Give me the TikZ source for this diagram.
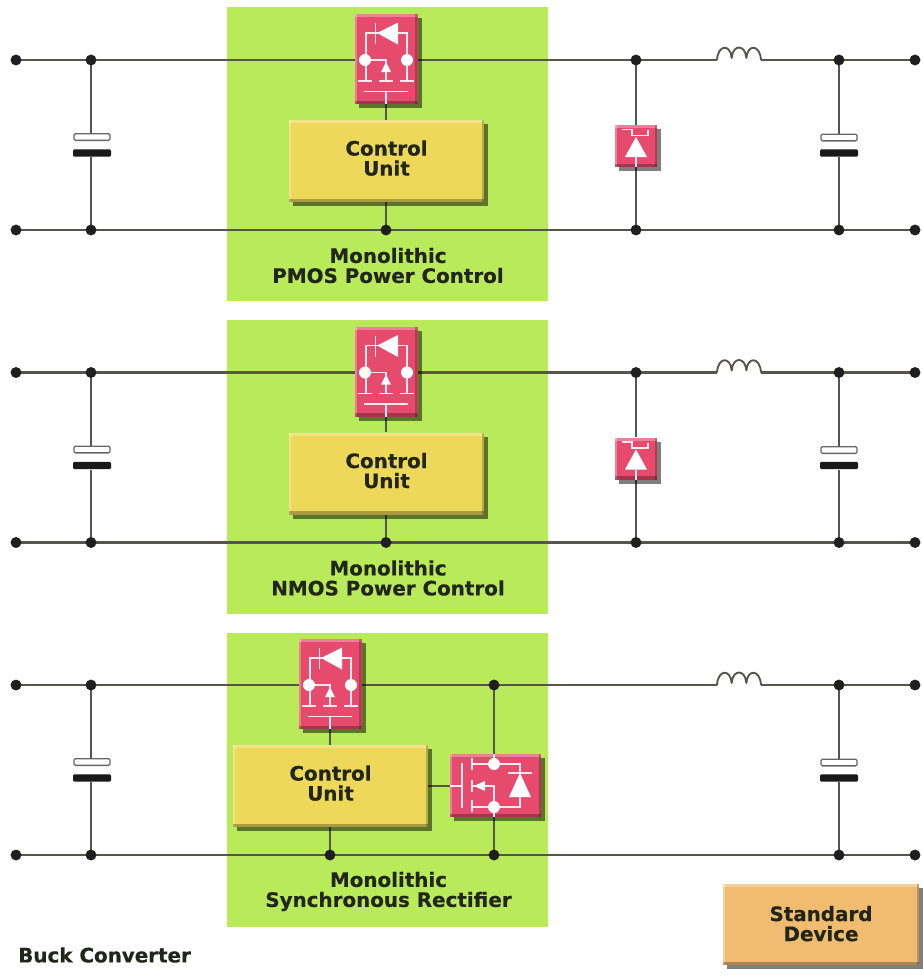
\documentclass[tikz,border=0pt]{standalone}
\usepackage{fontspec}
\setmainfont[BoldFeatures={FakeBold=0.4}]{DejaVu Sans}
\pgfdeclarelayer{greens}
\pgfdeclarelayer{wires}
\pgfsetlayers{greens,wires,main}
\definecolor{wirec}{HTML}{55554B}
\definecolor{leaf}{HTML}{B8EA5A}
\definecolor{redbox}{HTML}{E64A6C}
\definecolor{yellowbox}{HTML}{EDD85A}
\definecolor{orangebox}{HTML}{F0BC70}
\definecolor{inkc}{HTML}{22261A}
\tikzset{
  wire/.style={draw=wirec,line width=1.9pt},
  dot/.style={circle,fill=black!88,inner sep=0pt,minimum size=8.2pt},
  term/.style={dot},
  panel/.style={fill=leaf,draw=none,inner sep=0pt,anchor=north west,minimum width=240.75pt,minimum height=220.5pt},
  bevel/.style={
    draw=none,fill=#1,inner sep=0pt,
    preaction={fill=black,opacity=.5,transform canvas={shift={(3pt,-3pt)}}},
    path picture={
      \fill[white,opacity=.3] (path picture bounding box.north west) rectangle ([yshift=-2.5pt]path picture bounding box.north east);
      \fill[white,opacity=.3] (path picture bounding box.north west) rectangle ([xshift=1.6pt]path picture bounding box.south west);
      \fill[black,opacity=.28] (path picture bounding box.south west) rectangle ([yshift=2.6pt]path picture bounding box.south east);
      \fill[black,opacity=.22] (path picture bounding box.north east) rectangle ([xshift=-1.6pt]path picture bounding box.south east);
    }},
  label/.style={font=\fontsize{14.9}{15}\selectfont\bfseries,text=inkc,align=center,inner sep=0pt},
  cubox/.style={bevel=yellowbox,minimum width=146.25pt,minimum height=61.5pt,label,text depth=4.5pt},
  icon/.style={draw=white!88!redbox,line width=1.3pt},
  iconfill/.style={fill=white,draw=none},
  whiteplate/.style={draw=black!60,line width=1pt,fill=white,rounded corners=1pt,inner sep=0pt,minimum width=27pt,minimum height=5pt},
  blackplate/.style={fill=black!90,rounded corners=1pt,inner sep=0pt,minimum width=28.5pt,minimum height=5.6pt},
}
% common parts of one converter row
\newcommand{\commonparts}[1]{%
  \node[term] (#1tl) at (16,60) {};
  \node[term] (#1bl) at (16,230) {};
  \node[term] (#1tr) at (915,60) {};
  \node[term] (#1br) at (915,230) {};
  \node[dot] (#1ct) at (91,60) {};
  \node[dot] (#1cb) at (91,230) {};
  \node[dot] (#1ot) at (839,60) {};
  \node[dot] (#1ob) at (839,230) {};
  \node[whiteplate] (#1cw) at (92,137) {};
  \node[blackplate] (#1cd) at (92,153) {};
  \node[whiteplate] (#1ow) at (839,137.5) {};
  \node[blackplate] (#1od) at (839,153) {};
  \coordinate (#1ia) at (717,60);
  \coordinate (#1ib) at (761,60);
  \begin{pgfonlayer}{wires}
    \draw[wire] (#1tl.center) -- (#1ct.center);
    \draw[wire] (#1ct.center) -- (#1ct.center |- #1cw.north);
    \draw[wire] (#1cb.center |- #1cd.south) -- (#1cb.center);
    \draw[wire] (#1ot.center) -- (#1ow);
    \draw[wire] (#1od) -- (#1ob.center);
    \draw[wire] (#1ib) -- (#1ot.center);
    \draw[wire] (#1ot.center) -- (#1tr.center);
    \draw[wire] (#1bl.center) -- (#1br.center);
    \draw[wire,line width=1.4pt,line join=round] (#1ia)
      .. controls +(1,-16) and +(-1,-14) .. ++(14.67,-2)
      .. controls +(1,-14) and +(-1,-14) .. ++(14.67,0)
      .. controls +(1,-14) and +(-1,-16) .. ++(14.67,2);
  \end{pgfonlayer}
}
% device icon, drawn around x=386
\newcommand{\mosicon}{%
  \draw[icon] (366,60) -- (366,33) -- (407,33) -- (407,60);
  \fill[iconfill] (377,33) -- (398,22.5) -- (398,44.5) -- cycle;
  \draw[icon] (375.5,23) -- (375.5,44);
  \draw[icon] (366,60) -- (366,81);
  \draw[icon] (358,81) -- (372,81);
  \draw[icon] (366,60) -- (386,60) -- (386,81);
  \fill[iconfill] (386,62) -- (391,72) -- (381,72) -- cycle;
  \draw[icon] (379,81) -- (393,81);
  \draw[icon] (407,60) -- (407,81);
  \draw[icon] (400,81) -- (414,81);
  \draw[icon] (364,91.5) -- (408,91.5);
  \draw[icon] (386,91.5) -- (386,104);
  \fill[iconfill] (365,60) circle[radius=6];
  \fill[iconfill] (407,60) circle[radius=6];
}
\newcommand{\diodeicon}{%
  \draw[icon] (622,129.5) -- (632,129.5) -- (632,135.5) -- (648,135.5) -- (648,130);
  \fill[iconfill] (636,137) -- (647,157) -- (625,157) -- cycle;
  \draw[icon] (636,157) -- (636,167);
}
% rows one and two: prefix, caption
\newcommand{\upperrow}[2]{%
  \commonparts{#1}
  \begin{pgfonlayer}{greens}
    \node[panel] (#1green) at (227,7) {};
  \end{pgfonlayer}
  \node[bevel=redbox,minimum width=47.25pt,minimum height=67.5pt] (#1mos) at (386,59) {};
  \mosicon
  \node[cubox] (#1cu) at (386.5,161) {Control\\Unit};
  \node[bevel=redbox,minimum width=31.5pt,minimum height=31.5pt] (#1di) at (636,146) {};
  \diodeicon
  \node[dot] (#1jt) at (636,60) {};
  \node[dot] (#1jb) at (636,230) {};
  \node[dot] (#1jc) at (386,230) {};
  \node[label] (#1txt) at (388,265.5) {Monolithic\\#2};
  \begin{pgfonlayer}{wires}
    \draw[wire] (#1ct.center) -- (#1jt.center);
    \draw[wire] (#1jt.center) -- (#1ia);
    \draw[wire] (#1mos.south) -- (#1mos.south |- #1cu.north);
    \draw[wire] (#1jc.center |- #1cu.south) -- (#1jc.center);
    \draw[wire] (#1jt.center) -- (#1di);
    \draw[wire] (#1di) -- (#1jb.center);
  \end{pgfonlayer}
}
\begin{document}
\begin{tikzpicture}[x=0.75pt,y=-0.75pt]
\useasboundingbox (0,0) rectangle (923,979);
\begin{pgfonlayer}{greens}
  \fill[white] (0,0) rectangle (923,979);
\end{pgfonlayer}

\begin{scope}
  \upperrow{a}{PMOS Power Control}
\end{scope}

\begin{scope}[shift={(0,312.5)}]
  \upperrow{b}{NMOS Power Control}
\end{scope}

\begin{scope}[shift={(0,625)}]
  \commonparts{c}
  \begin{pgfonlayer}{greens}
    \node[panel] (cgreen) at (227,8) {};
  \end{pgfonlayer}
  \begin{scope}[shift={(-56,0)}]
    \node[bevel=redbox,minimum width=47.25pt,minimum height=67.5pt] (cmos) at (386,59) {};
    \mosicon
    \node[cubox] (ccu) at (386.5,161) {Control\\Unit};
    \node[dot] (cjc) at (386,230) {};
  \end{scope}
  \node[bevel=redbox,minimum width=68.25pt,minimum height=47.25pt] (crec) at (495.5,160.5) {};
  \draw[icon] (462,138) -- (462,183);
  \draw[icon] (450,161) -- (462,161);
  \draw[icon] (472,133) -- (472,145);
  \draw[icon] (472,155) -- (472,167);
  \draw[icon] (472,175) -- (472,187);
  \draw[icon] (472,139) -- (494,139) -- (520,139) -- (520,182) -- (494,182) -- (472,182);
  \draw[icon] (472,161) -- (494,161) -- (494,182);
  \fill[iconfill] (474,161) -- (485,156) -- (485,166) -- cycle;
  \draw[icon] (508,148) -- (532,148);
  \fill[iconfill] (520,148) -- (531,172) -- (509,172) -- cycle;
  \draw[icon] (494,129) -- (494,139);
  \draw[icon] (494,182) -- (494,192);
  \fill[iconfill] (494,139) circle[radius=6];
  \fill[iconfill] (494,182) circle[radius=6];
  \node[dot] (cjt) at (494,60) {};
  \node[dot] (cjb) at (494,230) {};
  \node[label] (ctxt) at (388.5,266.5) {Monolithic\\Synchronous Rectifier};
  \begin{pgfonlayer}{wires}
    \draw[wire] (cct.center) -- (cjt.center);
    \draw[wire] (cjt.center) -- (cia);
    \draw[wire] (cmos.south) -- (cmos.south |- ccu.north);
    \draw[wire] (cjc.center |- ccu.south) -- (cjc.center);
    \draw[wire] (ccu.east) -- (crec.west |- ccu.east);
    \draw[wire] (cjt.center) -- (crec.north -| cjt);
    \draw[wire] (crec.south -| cjb) -- (cjb.center);
  \end{pgfonlayer}
\end{scope}

\node[label,anchor=west] (caption) at (18,955) {Buck Converter};
\node[bevel=orangebox,minimum width=147pt,minimum height=60.75pt,label,text depth=1.5pt] (std) at (821,924.5) {Standard\\Device};
\end{tikzpicture}
\end{document}
